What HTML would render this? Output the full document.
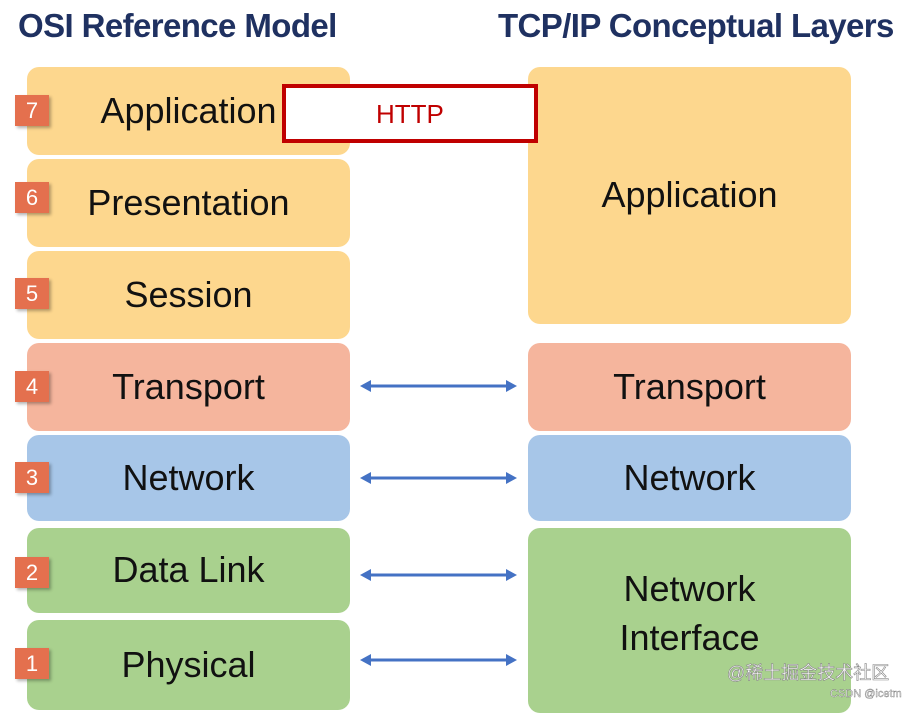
<!DOCTYPE html>
<html><head><meta charset="utf-8"><style>
body{margin:0;width:908px;height:703px;background:#fff;position:relative;overflow:hidden;font-family:"Liberation Sans",sans-serif}
.t{position:absolute;top:7px;font-weight:bold;color:#1f3161;font-size:33px;letter-spacing:-0.6px;white-space:nowrap}
.b{position:absolute;border-radius:12px;display:flex;align-items:center;justify-content:center;font-size:36px;color:#111;text-align:center;line-height:1.3}
.y{background:#fdd78e}.o{background:#f5b59d}.u{background:#a7c6e8}.g{background:#a9d18e}
.n{position:absolute;left:15px;width:34px;height:31px;background:#e4704e;color:#fff;font-size:22px;display:flex;align-items:center;justify-content:center;box-shadow:2px 2px 3px rgba(0,0,0,.3)}
</style></head><body>
<div class="t" style="left:18px">OSI Reference Model</div>
<div class="t" style="left:498px">TCP/IP Conceptual Layers</div>

<div class="b y" style="left:27px;top:67px;width:323px;height:88px">Application</div>
<div class="b y" style="left:27px;top:159px;width:323px;height:88px">Presentation</div>
<div class="b y" style="left:27px;top:251px;width:323px;height:88px">Session</div>
<div class="b o" style="left:27px;top:343px;width:323px;height:88px">Transport</div>
<div class="b u" style="left:27px;top:435px;width:323px;height:86px">Network</div>
<div class="b g" style="left:27px;top:528px;width:323px;height:85px">Data Link</div>
<div class="b g" style="left:27px;top:620px;width:323px;height:90px">Physical</div>

<div class="b y" style="left:528px;top:67px;width:323px;height:257px">Application</div>
<div class="b o" style="left:528px;top:343px;width:323px;height:88px">Transport</div>
<div class="b u" style="left:528px;top:435px;width:323px;height:86px">Network</div>
<div class="b g" style="left:528px;top:528px;width:323px;height:185px;padding-bottom:14px;box-sizing:border-box;line-height:1.35">Network<br>Interface</div>

<div style="position:absolute;left:282px;top:84px;width:248px;height:51px;border:4px solid #c00000;background:#fff;box-sizing:content-box"></div>
<div style="position:absolute;left:376px;top:99px;font-size:26px;color:#c00000">HTTP</div>

<div class="n" style="top:95px">7</div>
<div class="n" style="top:182px">6</div>
<div class="n" style="top:278px">5</div>
<div class="n" style="top:371px">4</div>
<div class="n" style="top:462px">3</div>
<div class="n" style="top:557px">2</div>
<div class="n" style="top:648px">1</div>

<svg width="908" height="703" style="position:absolute;left:0;top:0">
<g stroke="#4472c4" stroke-width="3" fill="#4472c4">
<line x1="368" y1="386" x2="509" y2="386"/><polygon points="360,386 371,380 371,392" stroke="none"/><polygon points="517,386 506,380 506,392" stroke="none"/>
<line x1="368" y1="478" x2="509" y2="478"/><polygon points="360,478 371,472 371,484" stroke="none"/><polygon points="517,478 506,472 506,484" stroke="none"/>
<line x1="368" y1="575" x2="509" y2="575"/><polygon points="360,575 371,569 371,581" stroke="none"/><polygon points="517,575 506,569 506,581" stroke="none"/>
<line x1="368" y1="660" x2="509" y2="660"/><polygon points="360,660 371,654 371,666" stroke="none"/><polygon points="517,660 506,654 506,666" stroke="none"/>
</g>
<text x="727" y="679" font-family="Liberation Sans,Noto Sans CJK SC,sans-serif" font-size="18" fill="#fff" stroke="#888" stroke-width="0.6">@稀土掘金技术社区</text>
<text x="830" y="697" font-family="Liberation Sans,sans-serif" font-size="11" fill="#fff" stroke="#777" stroke-width="0.4">CSDN @icetm</text>
</svg>
</body></html>
